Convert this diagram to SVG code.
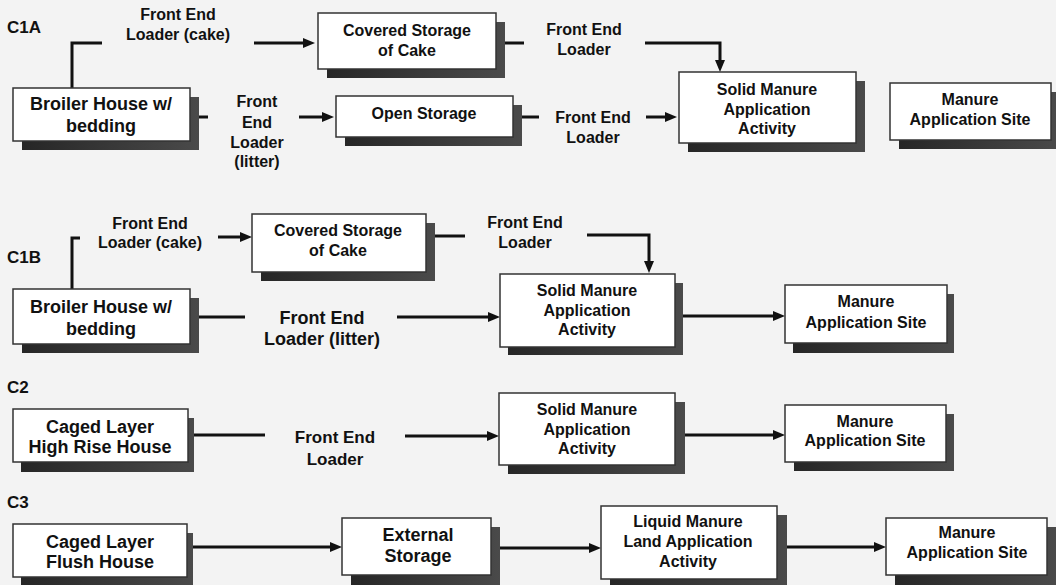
<svg xmlns="http://www.w3.org/2000/svg" width="1056" height="585" viewBox="0 0 1056 585">
  <style>
    text { font-family: "Liberation Sans", Arial, sans-serif; font-weight: bold; fill: #111; text-anchor: middle; }
    .f16 { font-size: 16px; }
    .f17 { font-size: 17px; }
    .f18 { font-size: 18px; }
    .tag { font-size: 17px; text-anchor: start; }
    .box { fill: #fff; stroke: #333; stroke-width: 1.5; }
    .shadow { fill: url(#shade); }
    .wire { fill: none; stroke: #111; stroke-width: 3; }
    .arrow { marker-end: url(#head); }
  </style>
  <defs>
    <linearGradient id="shade" x1="0" y1="0" x2="1" y2="0">
      <stop offset="0" stop-color="#262626"/>
      <stop offset="1" stop-color="#4a4a4a"/>
    </linearGradient>
    <marker id="head" viewBox="0 0 12 10" markerUnits="userSpaceOnUse" markerWidth="12" markerHeight="10" refX="3" refY="5" orient="auto">
      <path d="M0,0 L12,5 L0,10 z" fill="#111"/>
    </marker>
  </defs>

  <rect width="1056" height="585" fill="#f3f3f3"/>

  <!-- row captions -->
  <text class="tag" x="7" y="33">C1A</text>
  <text class="tag" x="7" y="263">C1B</text>
  <text class="tag" x="7" y="393">C2</text>
  <text class="tag" x="7" y="508">C3</text>

  <!-- connectors -->
  <g id="connectors">
    <!-- C1A -->
    <path class="wire" d="M72,88 V43 H102"/>
    <path class="wire arrow" d="M254,43 H306"/>
    <path class="wire" d="M198,117 H208"/>
    <path class="wire arrow" d="M299,117 H325"/>
    <path class="wire" d="M504,43 H524"/>
    <path class="wire arrow" d="M645,43 H720 V63"/>
    <path class="wire" d="M522,117 H539"/>
    <path class="wire arrow" d="M646,117 H668"/>
    <!-- C1B -->
    <path class="wire" d="M72,289 V238 H80"/>
    <path class="wire arrow" d="M218,237 H243"/>
    <path class="wire" d="M435,236 H465"/>
    <path class="wire arrow" d="M587,235 H649 V264"/>
    <path class="wire" d="M199,317 H245"/>
    <path class="wire arrow" d="M397,317 H491"/>
    <path class="wire arrow" d="M680,316 H776"/>
    <!-- C2 -->
    <path class="wire" d="M194,435 H265"/>
    <path class="wire arrow" d="M405,436 H490"/>
    <path class="wire arrow" d="M675,435 H776"/>
    <!-- C3 -->
    <path class="wire arrow" d="M193,547 H333"/>
    <path class="wire arrow" d="M500,548 H592"/>
    <path class="wire arrow" d="M787,547 H877"/>
  </g>

  <!-- connector labels -->
  <g id="labels">
    <text class="f16" x="178" y="20">Front End</text>
    <text class="f16" x="178" y="40">Loader (cake)</text>
    <text class="f16" x="257" y="107">Front</text>
    <text class="f16" x="257" y="128">End</text>
    <text class="f16" x="257" y="148">Loader</text>
    <text class="f16" x="257" y="167">(litter)</text>
    <text class="f16" x="584" y="35">Front End</text>
    <text class="f16" x="584" y="55">Loader</text>
    <text class="f16" x="593" y="123">Front End</text>
    <text class="f16" x="593" y="143">Loader</text>

    <text class="f16" x="150" y="229">Front End</text>
    <text class="f16" x="150" y="248">Loader (cake)</text>
    <text class="f16" x="525" y="228">Front End</text>
    <text class="f16" x="525" y="248">Loader</text>
    <text class="f18" x="322" y="324">Front End</text>
    <text class="f18" x="322" y="345">Loader (litter)</text>

    <text class="f17" x="335" y="443">Front End</text>
    <text class="f17" x="335" y="465">Loader</text>
  </g>

  <!-- C1A nodes -->
  <g id="broiler-c1a">
    <rect class="shadow" x="22" y="97" width="177" height="53"/>
    <rect class="box" x="13" y="88" width="177" height="53"/>
    <text class="f18" x="101" y="110">Broiler House w/</text>
    <text class="f18" x="101" y="132">bedding</text>
  </g>
  <g id="covered-c1a">
    <rect class="shadow" x="327" y="22" width="178" height="56"/>
    <rect class="box" x="318" y="13" width="178" height="56"/>
    <text class="f16" x="407" y="36">Covered Storage</text>
    <text class="f16" x="407" y="56">of Cake</text>
  </g>
  <g id="open-c1a">
    <rect class="shadow" x="345" y="105" width="177" height="41"/>
    <rect class="box" x="336" y="96" width="177" height="41"/>
    <text class="f16" x="424" y="119">Open Storage</text>
  </g>
  <g id="solid-c1a">
    <rect class="shadow" x="688" y="81" width="177" height="71"/>
    <rect class="box" x="679" y="72" width="177" height="71"/>
    <text class="f16" x="767" y="95">Solid Manure</text>
    <text class="f16" x="767" y="115">Application</text>
    <text class="f16" x="767" y="134">Activity</text>
  </g>
  <g id="site-c1a">
    <rect class="shadow" x="899" y="92" width="161" height="57"/>
    <rect class="box" x="890" y="83" width="161" height="57"/>
    <text class="f16" x="970" y="105">Manure</text>
    <text class="f16" x="970" y="125">Application Site</text>
  </g>

  <!-- C1B nodes -->
  <g id="broiler-c1b">
    <rect class="shadow" x="22" y="298" width="177" height="55"/>
    <rect class="box" x="13" y="289" width="177" height="55"/>
    <text class="f18" x="101" y="313">Broiler House w/</text>
    <text class="f18" x="101" y="335">bedding</text>
  </g>
  <g id="covered-c1b">
    <rect class="shadow" x="261" y="223" width="174" height="58"/>
    <rect class="box" x="252" y="214" width="174" height="58"/>
    <text class="f16" x="338" y="236">Covered Storage</text>
    <text class="f16" x="338" y="256">of Cake</text>
  </g>
  <g id="solid-c1b">
    <rect class="shadow" x="508" y="283" width="175" height="72"/>
    <rect class="box" x="500" y="274" width="175" height="73"/>
    <text class="f16" x="587" y="296">Solid Manure</text>
    <text class="f16" x="587" y="316">Application</text>
    <text class="f16" x="587" y="335">Activity</text>
  </g>
  <g id="site-c1b">
    <rect class="shadow" x="793" y="294" width="161" height="59"/>
    <rect class="box" x="785" y="285" width="162" height="58"/>
    <text class="f16" x="866" y="307">Manure</text>
    <text class="f16" x="866" y="328">Application Site</text>
  </g>

  <!-- C2 nodes -->
  <g id="highrise-c2">
    <rect class="shadow" x="21" y="418" width="173" height="54"/>
    <rect class="box" x="13" y="409" width="175" height="53"/>
    <text class="f18" x="100" y="433">Caged Layer</text>
    <text class="f18" x="100" y="453">High Rise House</text>
  </g>
  <g id="solid-c2">
    <rect class="shadow" x="508" y="402" width="177" height="72"/>
    <rect class="box" x="499" y="393" width="176" height="72"/>
    <text class="f16" x="587" y="415">Solid Manure</text>
    <text class="f16" x="587" y="435">Application</text>
    <text class="f16" x="587" y="454">Activity</text>
  </g>
  <g id="site-c2">
    <rect class="shadow" x="794" y="414" width="160" height="57"/>
    <rect class="box" x="785" y="405" width="161" height="57"/>
    <text class="f16" x="865" y="427">Manure</text>
    <text class="f16" x="865" y="446">Application Site</text>
  </g>

  <!-- C3 nodes -->
  <g id="flush-c3">
    <rect class="shadow" x="21" y="533" width="172" height="53"/>
    <rect class="box" x="13" y="524" width="174" height="53"/>
    <text class="f18" x="100" y="548">Caged Layer</text>
    <text class="f18" x="100" y="568">Flush House</text>
  </g>
  <g id="external-c3">
    <rect class="shadow" x="351" y="527" width="149" height="58"/>
    <rect class="box" x="342" y="518" width="149" height="57"/>
    <text class="f18" x="418" y="541">External</text>
    <text class="f18" x="418" y="562">Storage</text>
  </g>
  <g id="liquid-c3">
    <rect class="shadow" x="610" y="515" width="177" height="73"/>
    <rect class="box" x="601" y="506" width="176" height="73"/>
    <text class="f16" x="688" y="527">Liquid Manure</text>
    <text class="f16" x="688" y="547">Land Application</text>
    <text class="f16" x="688" y="567">Activity</text>
  </g>
  <g id="site-c3">
    <rect class="shadow" x="895" y="527" width="161" height="58"/>
    <rect class="box" x="886" y="518" width="161" height="57"/>
    <text class="f16" x="967" y="538">Manure</text>
    <text class="f16" x="967" y="558">Application Site</text>
  </g>
</svg>
